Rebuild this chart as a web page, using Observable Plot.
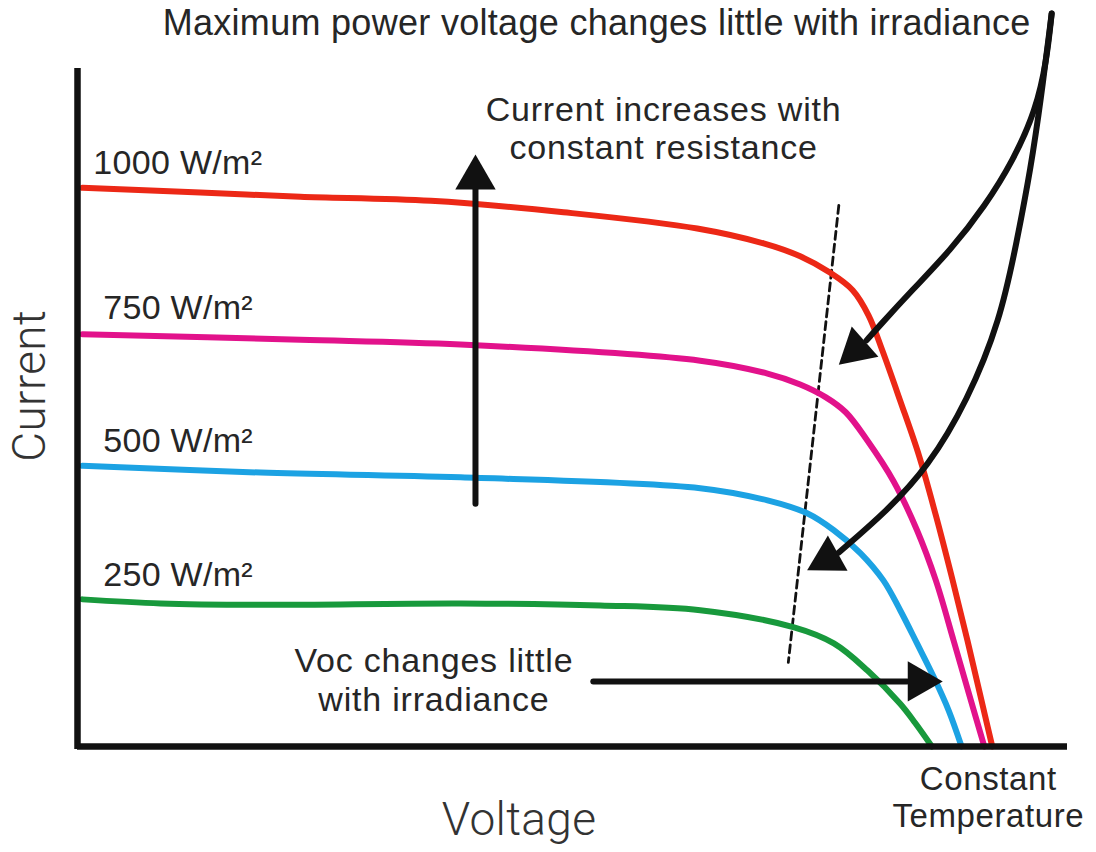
<!DOCTYPE html>
<html><head><meta charset="utf-8">
<script src="https://cdn.jsdelivr.net/npm/d3@7"></script>
<script src="https://cdn.jsdelivr.net/npm/@observablehq/plot@0.6"></script>
<style>html,body{margin:0;padding:0;background:#fff;overflow:hidden}</style>
</head><body><div id="chart"></div>
<script>
// ---- Data (arbitrary units: voltage 0–100, current 0–100) ----
const seriesNames = ["1000 W/m²", "750 W/m²", "500 W/m²", "250 W/m²"];
const seriesColors = ["#ec2816", "#e2128b", "#1ca2e3", "#18993c"];

const voltage1000 = [0.5, 12.4, 22.5, 35.7, 49.1, 62.6, 69.3, 73.0, 76.0, 78.3, 79.9, 81.3, 83.1, 85.0, 86.7, 88.4, 89.9, 91.2, 92.4];
const current1000 = [82.4, 81.7, 81.1, 80.5, 78.8, 76.4, 74.2, 72.3, 69.9, 67.3, 63.6, 58.4, 51.0, 42.9, 34.1, 24.5, 15.6, 7.5, 0];

const voltage750 = [0.5, 22.5, 38.7, 62.9, 69.7, 73.0, 75.6, 77.6, 79.8, 82.4, 84.8, 86.7, 88.5, 90.1, 91.6];
const current750 = [60.8, 60.0, 59.3, 56.9, 55.0, 53.4, 51.5, 49.3, 45.1, 39.2, 31.9, 24.5, 15.6, 7.5, 0];

const voltage500 = [0.5, 18.5, 38.7, 62.9, 69.7, 73.7, 76.4, 79.1, 81.4, 83.1, 84.8, 86.5, 88.0, 89.3];
const current500 = [41.4, 40.4, 39.7, 38.1, 36.3, 34.4, 31.9, 28.5, 24.5, 20.1, 15.2, 10.2, 5.3, 0];

const voltage250 = [0.5, 8.4, 18.5, 38.7, 52.8, 62.9, 72.3, 76.4, 79.8, 83.1, 84.6, 86.3];
const current250 = [21.7, 21.1, 20.9, 21.1, 20.8, 20.1, 17.6, 15.2, 11.2, 6.3, 3.5, 0];

// label anchors for each series
const labelVoltage = [1.6, 2.6, 2.6, 2.6];
const labelCurrent = [84.5, 63.1, 43.4, 23.7];

// maximum-power locus (dashed)
const mppVoltage = [76.9, 71.8];
const mppCurrent = [79.8, 12.4];

// annotation arrows: shaft points, and tip
const arrowShafts = [
  {name: "up",   V: [40.2, 40.2], I: [35.8, 82.2], tipV: 40.2, tipI: 87.3},
  {name: "voc",  V: [52.1, 83.8], I: [9.6, 9.6],   tipV: 87.4, tipI: 9.6},
  {name: "mpp1", V: [98.4, 97.9, 96.8, 94.5, 91.7, 88.2, 84.3, 81.1, 79.7], I: [108.1, 101.2, 93.8, 86.4, 79.8, 73.2, 67.3, 62.2, 59.9], tipV: 76.9, tipI: 56.3},
  {name: "mpp2", V: [98.4, 97.3, 96.3, 94.9, 93.2, 89.9, 85.9, 81.8, 76.9], I: [108.1, 95.3, 85.4, 74.6, 62.8, 51.0, 41.2, 34.8, 28.6], tipV: 73.7, tipI: 26.0}
];

const titleNote = {text: "Maximum power voltage changes little with irradiance", V: 8.6, I: 105.0};
const notes = [
  {text: "Current increases with\nconstant resistance", V: 59.2, I: 86.7},
  {text: "Voc changes little\nwith irradiance", V: 36.0, I: 5.3}
];
const tempNote = {text: "Constant\nTemperature", V: 92.0, I: -11.9};
const xLabel = {text: "Voltage", V: 44.6, I: -13.1};
const yLabel = {text: "Current", V: -3.3, I: 53.2};

// ---- Build tables ----
const curves = [
  [voltage1000, current1000], [voltage750, current750],
  [voltage500, current500], [voltage250, current250]
].flatMap(([vs, is], k) => vs.map((v, j) => ({series: seriesNames[k], V: v, I: is[j]})));
const seriesLabels = seriesNames.map((s, k) => ({text: s, V: labelVoltage[k], I: labelCurrent[k]}));
const mpp = mppVoltage.map((v, j) => ({V: v, I: mppCurrent[j]}));
const shaftRows = arrowShafts.flatMap(a => a.V.map((v, j) => ({arrow: a.name, V: v, I: a.I[j]})));

const W = 1096, H = 852;
const mL = 77, mR = 29, mT = 68, mB = 106;
const xs = d3.scaleLinear([0, 100], [mL, W - mR]);
const ys = d3.scaleLinear([0, 100], [H - mB, mT]);
const headR = 15; // triangle radius
const headH = 3 * Math.sqrt(headR * headR * Math.PI / (3 * Math.sqrt(3)));
const heads = arrowShafts.map(a => {
  const n = a.V.length - 1;
  const fx = xs(a.V[n]), fy = ys(a.I[n]), tx = xs(a.tipV), ty = ys(a.tipI);
  const L = Math.hypot(tx - fx, ty - fy), ux = (tx - fx) / L, uy = (ty - fy) / L;
  const cx = tx - ux * headH * 2 / 3, cy = ty - uy * headH * 2 / 3;
  return {V: xs.invert(cx), I: ys.invert(cy), angle: Math.atan2(ux, -uy) * 180 / Math.PI};
});

const font = "Liberation Sans, Arial, Helvetica, sans-serif";
const lightFont = "Roboto, Liberation Sans, Arial, sans-serif";
const ink = "#111";
const txt = "#262626";

const chart = Plot.plot({
  width: W, height: H,
  marginLeft: mL, marginRight: mR, marginTop: mT, marginBottom: mB,
  x: {domain: [0, 100], axis: null},
  y: {domain: [0, 100], axis: null},
  color: {domain: seriesNames, range: seriesColors},
  style: {fontFamily: font, background: "#fff", overflow: "visible", letterSpacing: "0.3px"},
  marks: [
    Plot.line(mpp, {x: "V", y: "I", stroke: ink, strokeWidth: 2.8, strokeDasharray: "8,5"}),
    Plot.line(curves, {x: "V", y: "I", z: "series", stroke: "series", strokeWidth: 6, curve: "catmull-rom"}),
    Plot.line(shaftRows, {x: "V", y: "I", z: "arrow", stroke: ink, strokeWidth: 6, curve: "basis"}),
    Plot.dot(heads, {x: "V", y: "I", symbol: "triangle", r: headR, fill: ink, stroke: "none", rotate: "angle"}),
    Plot.ruleY([0], {x1: 0, x2: 100, stroke: ink, strokeWidth: 6.5}),
    Plot.ruleX([0], {y1: -0.45, y2: 100, stroke: ink, strokeWidth: 6.5}),
    Plot.text(seriesLabels, {x: "V", y: "I", text: "text", textAnchor: "start", lineAnchor: "bottom", fontSize: 34, fill: txt}),
    Plot.text([titleNote], {x: "V", y: "I", text: "text", textAnchor: "start", lineAnchor: "bottom", fontSize: 36, fill: txt}),
    Plot.text(notes, {x: "V", y: "I", text: "text", textAnchor: "middle", lineAnchor: "bottom", fontSize: 34, lineHeight: 1.12, fill: txt}),
    Plot.text([tempNote], {x: "V", y: "I", text: "text", textAnchor: "middle", lineAnchor: "bottom", fontSize: 33, lineHeight: 1.12, fill: txt}),
    Plot.text([xLabel], {x: "V", y: "I", text: "text", textAnchor: "middle", lineAnchor: "bottom", fontSize: 46, fill: "#333", fontWeight: 300, fontFamily: lightFont}),
    Plot.text([yLabel], {x: "V", y: "I", text: "text", textAnchor: "middle", lineAnchor: "bottom", fontSize: 46, fill: "#333", fontWeight: 300, fontFamily: lightFont, rotate: -90})
  ]
});
// slightly wider tracking for the multi-line notes
const textGroups = chart.querySelectorAll('g[aria-label="text"]');
if (textGroups[2]) textGroups[2].setAttribute("letter-spacing", "0.8px");
if (textGroups[3]) textGroups[3].setAttribute("letter-spacing", "0.6px");
document.getElementById("chart").appendChild(chart);
</script>
</body></html>
